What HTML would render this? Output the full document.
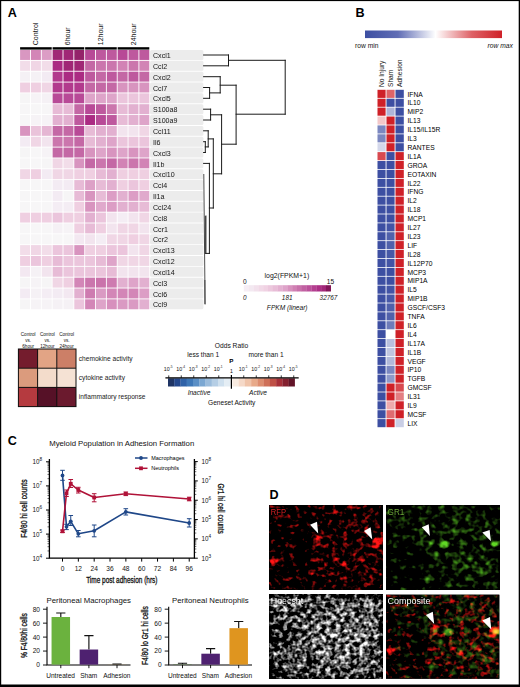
<!DOCTYPE html>
<html lang="en"><head><meta charset="utf-8"><title>Figure</title>
<style>html,body{margin:0;padding:0;background:#fff;}body{width:520px;height:687px;overflow:hidden;font-family:"Liberation Sans",sans-serif;}svg{display:block;font-family:"Liberation Sans",sans-serif;}text{font-family:"Liberation Sans",sans-serif;}</style>
</head><body>
<svg width="520" height="687" viewBox="0 0 520 687">
<defs><linearGradient id="gB" x1="0" x2="1" y1="0" y2="0"><stop offset="0" stop-color="#3d4fa2"/><stop offset="0.24" stop-color="#606db5"/><stop offset="0.515" stop-color="#ffffff"/><stop offset="0.78" stop-color="#de6166"/><stop offset="1" stop-color="#cf2128"/></linearGradient></defs>
<rect width="520" height="687" fill="#fff"/>
<rect x="0" y="0" width="520" height="1.1" fill="#000"/>
<rect x="0" y="0" width="1.2" height="687" fill="#000"/>
<rect x="518.7" y="0" width="1.3" height="687" fill="#000"/>
<rect x="0" y="684.5" width="520" height="2.5" fill="#000"/>
<g id="panelA">
<text x="7.70" y="17.20" font-size="12.6" text-anchor="start" font-weight="bold" font-style="normal" fill="#000" >A</text>
<rect x="20.10" y="47.2" width="31.62" height="2.4" fill="#000"/>
<rect x="52.62" y="47.2" width="31.62" height="2.4" fill="#000"/>
<rect x="85.14" y="47.2" width="31.62" height="2.4" fill="#000"/>
<rect x="117.66" y="47.2" width="31.62" height="2.4" fill="#000"/>
<text transform="translate(37.96,45.2) rotate(-90)" font-size="7.0" fill="#111">Control</text>
<text transform="translate(70.48,45.2) rotate(-90)" font-size="7.0" fill="#111">6hour</text>
<text transform="translate(103.00,45.2) rotate(-90)" font-size="7.0" fill="#111">12hour</text>
<text transform="translate(135.52,45.2) rotate(-90)" font-size="7.0" fill="#111">24hour</text>
<rect x="20.10" y="50.00" width="9.94" height="9.94" fill="#d997c1"/>
<rect x="30.94" y="50.00" width="9.94" height="9.94" fill="#d386b7"/>
<rect x="41.78" y="50.00" width="9.94" height="9.94" fill="#dc9dc5"/>
<rect x="52.62" y="50.00" width="9.94" height="9.94" fill="#a02776"/>
<rect x="63.46" y="50.00" width="9.94" height="9.94" fill="#a02776"/>
<rect x="74.30" y="50.00" width="9.94" height="9.94" fill="#94236a"/>
<rect x="85.14" y="50.00" width="9.94" height="9.94" fill="#b84a97"/>
<rect x="95.98" y="50.00" width="9.94" height="9.94" fill="#be599e"/>
<rect x="106.82" y="50.00" width="9.94" height="9.94" fill="#be599e"/>
<rect x="117.66" y="50.00" width="9.94" height="9.94" fill="#b84a97"/>
<rect x="128.50" y="50.00" width="9.94" height="9.94" fill="#be599e"/>
<rect x="139.34" y="50.00" width="9.94" height="9.94" fill="#be599e"/>
<rect x="20.10" y="60.84" width="9.94" height="9.94" fill="#f2dde9"/>
<rect x="30.94" y="60.84" width="9.94" height="9.94" fill="#f0d6e5"/>
<rect x="41.78" y="60.84" width="9.94" height="9.94" fill="#f2dde9"/>
<rect x="52.62" y="60.84" width="9.94" height="9.94" fill="#ab2b83"/>
<rect x="63.46" y="60.84" width="9.94" height="9.94" fill="#a02776"/>
<rect x="74.30" y="60.84" width="9.94" height="9.94" fill="#a02776"/>
<rect x="85.14" y="60.84" width="9.94" height="9.94" fill="#c468a5"/>
<rect x="95.98" y="60.84" width="9.94" height="9.94" fill="#cb76ad"/>
<rect x="106.82" y="60.84" width="9.94" height="9.94" fill="#cb76ad"/>
<rect x="117.66" y="60.84" width="9.94" height="9.94" fill="#d283b5"/>
<rect x="128.50" y="60.84" width="9.94" height="9.94" fill="#cb76ad"/>
<rect x="139.34" y="60.84" width="9.94" height="9.94" fill="#d283b5"/>
<rect x="20.10" y="71.68" width="9.94" height="9.94" fill="#f5f1f5"/>
<rect x="30.94" y="71.68" width="9.94" height="9.94" fill="#f5f1f5"/>
<rect x="41.78" y="71.68" width="9.94" height="9.94" fill="#f3ebf3"/>
<rect x="52.62" y="71.68" width="9.94" height="9.94" fill="#b23a8d"/>
<rect x="63.46" y="71.68" width="9.94" height="9.94" fill="#ab2b83"/>
<rect x="74.30" y="71.68" width="9.94" height="9.94" fill="#ab2b83"/>
<rect x="85.14" y="71.68" width="9.94" height="9.94" fill="#be599e"/>
<rect x="95.98" y="71.68" width="9.94" height="9.94" fill="#c468a5"/>
<rect x="106.82" y="71.68" width="9.94" height="9.94" fill="#be599e"/>
<rect x="117.66" y="71.68" width="9.94" height="9.94" fill="#c468a5"/>
<rect x="128.50" y="71.68" width="9.94" height="9.94" fill="#be599e"/>
<rect x="139.34" y="71.68" width="9.94" height="9.94" fill="#c468a5"/>
<rect x="20.10" y="82.52" width="9.94" height="9.94" fill="#efcfe1"/>
<rect x="30.94" y="82.52" width="9.94" height="9.94" fill="#efcfe1"/>
<rect x="41.78" y="82.52" width="9.94" height="9.94" fill="#f0d6e5"/>
<rect x="52.62" y="82.52" width="9.94" height="9.94" fill="#b23a8d"/>
<rect x="63.46" y="82.52" width="9.94" height="9.94" fill="#b23a8d"/>
<rect x="74.30" y="82.52" width="9.94" height="9.94" fill="#b23a8d"/>
<rect x="85.14" y="82.52" width="9.94" height="9.94" fill="#c468a5"/>
<rect x="95.98" y="82.52" width="9.94" height="9.94" fill="#c468a5"/>
<rect x="106.82" y="82.52" width="9.94" height="9.94" fill="#c468a5"/>
<rect x="117.66" y="82.52" width="9.94" height="9.94" fill="#d894bf"/>
<rect x="128.50" y="82.52" width="9.94" height="9.94" fill="#d894bf"/>
<rect x="139.34" y="82.52" width="9.94" height="9.94" fill="#d894bf"/>
<rect x="20.10" y="93.36" width="9.94" height="9.94" fill="#f6f5f6"/>
<rect x="30.94" y="93.36" width="9.94" height="9.94" fill="#f6f3f6"/>
<rect x="41.78" y="93.36" width="9.94" height="9.94" fill="#f5f1f5"/>
<rect x="52.62" y="93.36" width="9.94" height="9.94" fill="#b84a97"/>
<rect x="63.46" y="93.36" width="9.94" height="9.94" fill="#b84a97"/>
<rect x="74.30" y="93.36" width="9.94" height="9.94" fill="#b84a97"/>
<rect x="85.14" y="93.36" width="9.94" height="9.94" fill="#dea4c9"/>
<rect x="95.98" y="93.36" width="9.94" height="9.94" fill="#dea4c9"/>
<rect x="106.82" y="93.36" width="9.94" height="9.94" fill="#dea4c9"/>
<rect x="117.66" y="93.36" width="9.94" height="9.94" fill="#ebc5dc"/>
<rect x="128.50" y="93.36" width="9.94" height="9.94" fill="#ebc5dc"/>
<rect x="139.34" y="93.36" width="9.94" height="9.94" fill="#ebc5dc"/>
<rect x="20.10" y="104.20" width="9.94" height="9.94" fill="#f7f6f7"/>
<rect x="30.94" y="104.20" width="9.94" height="9.94" fill="#f7f6f7"/>
<rect x="41.78" y="104.20" width="9.94" height="9.94" fill="#f7f6f7"/>
<rect x="52.62" y="104.20" width="9.94" height="9.94" fill="#e7bbd6"/>
<rect x="63.46" y="104.20" width="9.94" height="9.94" fill="#e7bbd6"/>
<rect x="74.30" y="104.20" width="9.94" height="9.94" fill="#c468a5"/>
<rect x="85.14" y="104.20" width="9.94" height="9.94" fill="#b84a97"/>
<rect x="95.98" y="104.20" width="9.94" height="9.94" fill="#be599e"/>
<rect x="106.82" y="104.20" width="9.94" height="9.94" fill="#cb76ad"/>
<rect x="117.66" y="104.20" width="9.94" height="9.94" fill="#e7bbd6"/>
<rect x="128.50" y="104.20" width="9.94" height="9.94" fill="#e2b0d0"/>
<rect x="139.34" y="104.20" width="9.94" height="9.94" fill="#e2b0d0"/>
<rect x="20.10" y="115.04" width="9.94" height="9.94" fill="#f7f6f7"/>
<rect x="30.94" y="115.04" width="9.94" height="9.94" fill="#f6f3f6"/>
<rect x="41.78" y="115.04" width="9.94" height="9.94" fill="#f6f3f6"/>
<rect x="52.62" y="115.04" width="9.94" height="9.94" fill="#e2b0d0"/>
<rect x="63.46" y="115.04" width="9.94" height="9.94" fill="#e2b0d0"/>
<rect x="74.30" y="115.04" width="9.94" height="9.94" fill="#be599e"/>
<rect x="85.14" y="115.04" width="9.94" height="9.94" fill="#ab2b83"/>
<rect x="95.98" y="115.04" width="9.94" height="9.94" fill="#b84a97"/>
<rect x="106.82" y="115.04" width="9.94" height="9.94" fill="#be599e"/>
<rect x="117.66" y="115.04" width="9.94" height="9.94" fill="#e7bbd6"/>
<rect x="128.50" y="115.04" width="9.94" height="9.94" fill="#e2b0d0"/>
<rect x="139.34" y="115.04" width="9.94" height="9.94" fill="#dea4c9"/>
<rect x="20.10" y="125.88" width="9.94" height="9.94" fill="#d894bf"/>
<rect x="30.94" y="125.88" width="9.94" height="9.94" fill="#eac3da"/>
<rect x="41.78" y="125.88" width="9.94" height="9.94" fill="#e5b6d3"/>
<rect x="52.62" y="125.88" width="9.94" height="9.94" fill="#c468a5"/>
<rect x="63.46" y="125.88" width="9.94" height="9.94" fill="#c468a5"/>
<rect x="74.30" y="125.88" width="9.94" height="9.94" fill="#b84a97"/>
<rect x="85.14" y="125.88" width="9.94" height="9.94" fill="#e7bbd6"/>
<rect x="95.98" y="125.88" width="9.94" height="9.94" fill="#e2b0d0"/>
<rect x="106.82" y="125.88" width="9.94" height="9.94" fill="#e2b0d0"/>
<rect x="117.66" y="125.88" width="9.94" height="9.94" fill="#f2e4ee"/>
<rect x="128.50" y="125.88" width="9.94" height="9.94" fill="#f2e4ee"/>
<rect x="139.34" y="125.88" width="9.94" height="9.94" fill="#f0d6e5"/>
<rect x="20.10" y="136.72" width="9.94" height="9.94" fill="#f3ebf3"/>
<rect x="30.94" y="136.72" width="9.94" height="9.94" fill="#f0d6e5"/>
<rect x="41.78" y="136.72" width="9.94" height="9.94" fill="#f2e4ee"/>
<rect x="52.62" y="136.72" width="9.94" height="9.94" fill="#cb76ad"/>
<rect x="63.46" y="136.72" width="9.94" height="9.94" fill="#cb76ad"/>
<rect x="74.30" y="136.72" width="9.94" height="9.94" fill="#c468a5"/>
<rect x="85.14" y="136.72" width="9.94" height="9.94" fill="#e7bbd6"/>
<rect x="95.98" y="136.72" width="9.94" height="9.94" fill="#e2b0d0"/>
<rect x="106.82" y="136.72" width="9.94" height="9.94" fill="#dea4c9"/>
<rect x="117.66" y="136.72" width="9.94" height="9.94" fill="#ebc5dc"/>
<rect x="128.50" y="136.72" width="9.94" height="9.94" fill="#ebc5dc"/>
<rect x="139.34" y="136.72" width="9.94" height="9.94" fill="#ebc5dc"/>
<rect x="20.10" y="147.56" width="9.94" height="9.94" fill="#f6f5f6"/>
<rect x="30.94" y="147.56" width="9.94" height="9.94" fill="#f7f6f7"/>
<rect x="41.78" y="147.56" width="9.94" height="9.94" fill="#f6f3f6"/>
<rect x="52.62" y="147.56" width="9.94" height="9.94" fill="#c468a5"/>
<rect x="63.46" y="147.56" width="9.94" height="9.94" fill="#c468a5"/>
<rect x="74.30" y="147.56" width="9.94" height="9.94" fill="#c468a5"/>
<rect x="85.14" y="147.56" width="9.94" height="9.94" fill="#d894bf"/>
<rect x="95.98" y="147.56" width="9.94" height="9.94" fill="#dea4c9"/>
<rect x="106.82" y="147.56" width="9.94" height="9.94" fill="#d894bf"/>
<rect x="117.66" y="147.56" width="9.94" height="9.94" fill="#dea4c9"/>
<rect x="128.50" y="147.56" width="9.94" height="9.94" fill="#d894bf"/>
<rect x="139.34" y="147.56" width="9.94" height="9.94" fill="#dea4c9"/>
<rect x="20.10" y="158.40" width="9.94" height="9.94" fill="#f7f6f7"/>
<rect x="30.94" y="158.40" width="9.94" height="9.94" fill="#f7f6f7"/>
<rect x="41.78" y="158.40" width="9.94" height="9.94" fill="#f6f5f6"/>
<rect x="52.62" y="158.40" width="9.94" height="9.94" fill="#f0d6e5"/>
<rect x="63.46" y="158.40" width="9.94" height="9.94" fill="#f2dde9"/>
<rect x="74.30" y="158.40" width="9.94" height="9.94" fill="#d894bf"/>
<rect x="85.14" y="158.40" width="9.94" height="9.94" fill="#c468a5"/>
<rect x="95.98" y="158.40" width="9.94" height="9.94" fill="#cb76ad"/>
<rect x="106.82" y="158.40" width="9.94" height="9.94" fill="#c468a5"/>
<rect x="117.66" y="158.40" width="9.94" height="9.94" fill="#d283b5"/>
<rect x="128.50" y="158.40" width="9.94" height="9.94" fill="#cb76ad"/>
<rect x="139.34" y="158.40" width="9.94" height="9.94" fill="#d283b5"/>
<rect x="20.10" y="169.24" width="9.94" height="9.94" fill="#f0d6e5"/>
<rect x="30.94" y="169.24" width="9.94" height="9.94" fill="#efcfe1"/>
<rect x="41.78" y="169.24" width="9.94" height="9.94" fill="#f3ebf3"/>
<rect x="52.62" y="169.24" width="9.94" height="9.94" fill="#f0d6e5"/>
<rect x="63.46" y="169.24" width="9.94" height="9.94" fill="#f0d6e5"/>
<rect x="74.30" y="169.24" width="9.94" height="9.94" fill="#efcfe1"/>
<rect x="85.14" y="169.24" width="9.94" height="9.94" fill="#efcfe1"/>
<rect x="95.98" y="169.24" width="9.94" height="9.94" fill="#e7bbd6"/>
<rect x="106.82" y="169.24" width="9.94" height="9.94" fill="#e2b0d0"/>
<rect x="117.66" y="169.24" width="9.94" height="9.94" fill="#efcfe1"/>
<rect x="128.50" y="169.24" width="9.94" height="9.94" fill="#efcfe1"/>
<rect x="139.34" y="169.24" width="9.94" height="9.94" fill="#efcfe1"/>
<rect x="20.10" y="180.08" width="9.94" height="9.94" fill="#f7f6f7"/>
<rect x="30.94" y="180.08" width="9.94" height="9.94" fill="#f7f6f7"/>
<rect x="41.78" y="180.08" width="9.94" height="9.94" fill="#f7f6f7"/>
<rect x="52.62" y="180.08" width="9.94" height="9.94" fill="#f3ebf3"/>
<rect x="63.46" y="180.08" width="9.94" height="9.94" fill="#f3ebf3"/>
<rect x="74.30" y="180.08" width="9.94" height="9.94" fill="#e7bbd6"/>
<rect x="85.14" y="180.08" width="9.94" height="9.94" fill="#dda1c7"/>
<rect x="95.98" y="180.08" width="9.94" height="9.94" fill="#e7bbd6"/>
<rect x="106.82" y="180.08" width="9.94" height="9.94" fill="#e2b0d0"/>
<rect x="117.66" y="180.08" width="9.94" height="9.94" fill="#efcfe1"/>
<rect x="128.50" y="180.08" width="9.94" height="9.94" fill="#ebc5dc"/>
<rect x="139.34" y="180.08" width="9.94" height="9.94" fill="#efcfe1"/>
<rect x="20.10" y="190.92" width="9.94" height="9.94" fill="#f7f6f7"/>
<rect x="30.94" y="190.92" width="9.94" height="9.94" fill="#f7f6f7"/>
<rect x="41.78" y="190.92" width="9.94" height="9.94" fill="#f7f6f7"/>
<rect x="52.62" y="190.92" width="9.94" height="9.94" fill="#f3ebf3"/>
<rect x="63.46" y="190.92" width="9.94" height="9.94" fill="#f6f5f6"/>
<rect x="74.30" y="190.92" width="9.94" height="9.94" fill="#e7bbd6"/>
<rect x="85.14" y="190.92" width="9.94" height="9.94" fill="#d894bf"/>
<rect x="95.98" y="190.92" width="9.94" height="9.94" fill="#e7bbd6"/>
<rect x="106.82" y="190.92" width="9.94" height="9.94" fill="#dc9dc5"/>
<rect x="117.66" y="190.92" width="9.94" height="9.94" fill="#e2b0d0"/>
<rect x="128.50" y="190.92" width="9.94" height="9.94" fill="#dc9dc5"/>
<rect x="139.34" y="190.92" width="9.94" height="9.94" fill="#e0a9cc"/>
<rect x="20.10" y="201.76" width="9.94" height="9.94" fill="#f7f6f7"/>
<rect x="30.94" y="201.76" width="9.94" height="9.94" fill="#f7f6f7"/>
<rect x="41.78" y="201.76" width="9.94" height="9.94" fill="#f7f6f7"/>
<rect x="52.62" y="201.76" width="9.94" height="9.94" fill="#f4edf4"/>
<rect x="63.46" y="201.76" width="9.94" height="9.94" fill="#f4edf4"/>
<rect x="74.30" y="201.76" width="9.94" height="9.94" fill="#efcfe1"/>
<rect x="85.14" y="201.76" width="9.94" height="9.94" fill="#d894bf"/>
<rect x="95.98" y="201.76" width="9.94" height="9.94" fill="#e0a9cc"/>
<rect x="106.82" y="201.76" width="9.94" height="9.94" fill="#dc9dc5"/>
<rect x="117.66" y="201.76" width="9.94" height="9.94" fill="#e2b0d0"/>
<rect x="128.50" y="201.76" width="9.94" height="9.94" fill="#e2b0d0"/>
<rect x="139.34" y="201.76" width="9.94" height="9.94" fill="#e7bbd6"/>
<rect x="20.10" y="212.60" width="9.94" height="9.94" fill="#efcfe1"/>
<rect x="30.94" y="212.60" width="9.94" height="9.94" fill="#efcfe1"/>
<rect x="41.78" y="212.60" width="9.94" height="9.94" fill="#efcfe1"/>
<rect x="52.62" y="212.60" width="9.94" height="9.94" fill="#ebc5dc"/>
<rect x="63.46" y="212.60" width="9.94" height="9.94" fill="#efcfe1"/>
<rect x="74.30" y="212.60" width="9.94" height="9.94" fill="#efcfe1"/>
<rect x="85.14" y="212.60" width="9.94" height="9.94" fill="#e2b0d0"/>
<rect x="95.98" y="212.60" width="9.94" height="9.94" fill="#ebc5dc"/>
<rect x="106.82" y="212.60" width="9.94" height="9.94" fill="#f2e4ee"/>
<rect x="117.66" y="212.60" width="9.94" height="9.94" fill="#f4edf4"/>
<rect x="128.50" y="212.60" width="9.94" height="9.94" fill="#f2e4ee"/>
<rect x="139.34" y="212.60" width="9.94" height="9.94" fill="#f0d6e5"/>
<rect x="20.10" y="223.44" width="9.94" height="9.94" fill="#f7f6f7"/>
<rect x="30.94" y="223.44" width="9.94" height="9.94" fill="#f7f6f7"/>
<rect x="41.78" y="223.44" width="9.94" height="9.94" fill="#f7f6f7"/>
<rect x="52.62" y="223.44" width="9.94" height="9.94" fill="#f5f1f5"/>
<rect x="63.46" y="223.44" width="9.94" height="9.94" fill="#f6f3f6"/>
<rect x="74.30" y="223.44" width="9.94" height="9.94" fill="#efcfe1"/>
<rect x="85.14" y="223.44" width="9.94" height="9.94" fill="#e7bbd6"/>
<rect x="95.98" y="223.44" width="9.94" height="9.94" fill="#efcfe1"/>
<rect x="106.82" y="223.44" width="9.94" height="9.94" fill="#f2e4ee"/>
<rect x="117.66" y="223.44" width="9.94" height="9.94" fill="#f0d6e5"/>
<rect x="128.50" y="223.44" width="9.94" height="9.94" fill="#f0d6e5"/>
<rect x="139.34" y="223.44" width="9.94" height="9.94" fill="#f2e4ee"/>
<rect x="20.10" y="234.28" width="9.94" height="9.94" fill="#f7f6f7"/>
<rect x="30.94" y="234.28" width="9.94" height="9.94" fill="#f7f6f7"/>
<rect x="41.78" y="234.28" width="9.94" height="9.94" fill="#f7f6f7"/>
<rect x="52.62" y="234.28" width="9.94" height="9.94" fill="#f7f6f7"/>
<rect x="63.46" y="234.28" width="9.94" height="9.94" fill="#f7f6f7"/>
<rect x="74.30" y="234.28" width="9.94" height="9.94" fill="#f3e8f1"/>
<rect x="85.14" y="234.28" width="9.94" height="9.94" fill="#f2e4ee"/>
<rect x="95.98" y="234.28" width="9.94" height="9.94" fill="#f4edf4"/>
<rect x="106.82" y="234.28" width="9.94" height="9.94" fill="#f0d6e5"/>
<rect x="117.66" y="234.28" width="9.94" height="9.94" fill="#f0d6e5"/>
<rect x="128.50" y="234.28" width="9.94" height="9.94" fill="#efcfe1"/>
<rect x="139.34" y="234.28" width="9.94" height="9.94" fill="#f0d6e5"/>
<rect x="20.10" y="245.12" width="9.94" height="9.94" fill="#f2dde9"/>
<rect x="30.94" y="245.12" width="9.94" height="9.94" fill="#f0d6e5"/>
<rect x="41.78" y="245.12" width="9.94" height="9.94" fill="#f2dde9"/>
<rect x="52.62" y="245.12" width="9.94" height="9.94" fill="#ebc5dc"/>
<rect x="63.46" y="245.12" width="9.94" height="9.94" fill="#ebc5dc"/>
<rect x="74.30" y="245.12" width="9.94" height="9.94" fill="#d894bf"/>
<rect x="85.14" y="245.12" width="9.94" height="9.94" fill="#efcfe1"/>
<rect x="95.98" y="245.12" width="9.94" height="9.94" fill="#efcfe1"/>
<rect x="106.82" y="245.12" width="9.94" height="9.94" fill="#ebc5dc"/>
<rect x="117.66" y="245.12" width="9.94" height="9.94" fill="#ebc5dc"/>
<rect x="128.50" y="245.12" width="9.94" height="9.94" fill="#f2e4ee"/>
<rect x="139.34" y="245.12" width="9.94" height="9.94" fill="#f0d6e5"/>
<rect x="20.10" y="255.96" width="9.94" height="9.94" fill="#efcfe1"/>
<rect x="30.94" y="255.96" width="9.94" height="9.94" fill="#ebc5dc"/>
<rect x="41.78" y="255.96" width="9.94" height="9.94" fill="#efcfe1"/>
<rect x="52.62" y="255.96" width="9.94" height="9.94" fill="#e7bbd6"/>
<rect x="63.46" y="255.96" width="9.94" height="9.94" fill="#ebc5dc"/>
<rect x="74.30" y="255.96" width="9.94" height="9.94" fill="#ebc5dc"/>
<rect x="85.14" y="255.96" width="9.94" height="9.94" fill="#ebc5dc"/>
<rect x="95.98" y="255.96" width="9.94" height="9.94" fill="#e7bbd6"/>
<rect x="106.82" y="255.96" width="9.94" height="9.94" fill="#dea4c9"/>
<rect x="117.66" y="255.96" width="9.94" height="9.94" fill="#f0d6e5"/>
<rect x="128.50" y="255.96" width="9.94" height="9.94" fill="#f0d6e5"/>
<rect x="139.34" y="255.96" width="9.94" height="9.94" fill="#f0d6e5"/>
<rect x="20.10" y="266.80" width="9.94" height="9.94" fill="#f3e8f1"/>
<rect x="30.94" y="266.80" width="9.94" height="9.94" fill="#f5f1f5"/>
<rect x="41.78" y="266.80" width="9.94" height="9.94" fill="#f2e4ee"/>
<rect x="52.62" y="266.80" width="9.94" height="9.94" fill="#e7bbd6"/>
<rect x="63.46" y="266.80" width="9.94" height="9.94" fill="#ebc5dc"/>
<rect x="74.30" y="266.80" width="9.94" height="9.94" fill="#ebc5dc"/>
<rect x="85.14" y="266.80" width="9.94" height="9.94" fill="#ebc5dc"/>
<rect x="95.98" y="266.80" width="9.94" height="9.94" fill="#ebc5dc"/>
<rect x="106.82" y="266.80" width="9.94" height="9.94" fill="#e7bbd6"/>
<rect x="117.66" y="266.80" width="9.94" height="9.94" fill="#f2e4ee"/>
<rect x="128.50" y="266.80" width="9.94" height="9.94" fill="#f2e4ee"/>
<rect x="139.34" y="266.80" width="9.94" height="9.94" fill="#f2e4ee"/>
<rect x="20.10" y="277.64" width="9.94" height="9.94" fill="#f6f5f6"/>
<rect x="30.94" y="277.64" width="9.94" height="9.94" fill="#f6f3f6"/>
<rect x="41.78" y="277.64" width="9.94" height="9.94" fill="#f6f5f6"/>
<rect x="52.62" y="277.64" width="9.94" height="9.94" fill="#f0d6e5"/>
<rect x="63.46" y="277.64" width="9.94" height="9.94" fill="#efcfe1"/>
<rect x="74.30" y="277.64" width="9.94" height="9.94" fill="#d386b7"/>
<rect x="85.14" y="277.64" width="9.94" height="9.94" fill="#cb76ad"/>
<rect x="95.98" y="277.64" width="9.94" height="9.94" fill="#ca73ab"/>
<rect x="106.82" y="277.64" width="9.94" height="9.94" fill="#ce7bb0"/>
<rect x="117.66" y="277.64" width="9.94" height="9.94" fill="#e2b0d0"/>
<rect x="128.50" y="277.64" width="9.94" height="9.94" fill="#dea4c9"/>
<rect x="139.34" y="277.64" width="9.94" height="9.94" fill="#e2b0d0"/>
<rect x="20.10" y="288.48" width="9.94" height="9.94" fill="#f3ebf3"/>
<rect x="30.94" y="288.48" width="9.94" height="9.94" fill="#f5f1f5"/>
<rect x="41.78" y="288.48" width="9.94" height="9.94" fill="#f4edf4"/>
<rect x="52.62" y="288.48" width="9.94" height="9.94" fill="#f3ebf3"/>
<rect x="63.46" y="288.48" width="9.94" height="9.94" fill="#f3e8f1"/>
<rect x="74.30" y="288.48" width="9.94" height="9.94" fill="#e2b0d0"/>
<rect x="85.14" y="288.48" width="9.94" height="9.94" fill="#ce7bb0"/>
<rect x="95.98" y="288.48" width="9.94" height="9.94" fill="#da9ac3"/>
<rect x="106.82" y="288.48" width="9.94" height="9.94" fill="#d386b7"/>
<rect x="117.66" y="288.48" width="9.94" height="9.94" fill="#d386b7"/>
<rect x="128.50" y="288.48" width="9.94" height="9.94" fill="#d386b7"/>
<rect x="139.34" y="288.48" width="9.94" height="9.94" fill="#dc9dc5"/>
<rect x="20.10" y="299.32" width="9.94" height="9.94" fill="#f6f5f6"/>
<rect x="30.94" y="299.32" width="9.94" height="9.94" fill="#f6f3f6"/>
<rect x="41.78" y="299.32" width="9.94" height="9.94" fill="#f6f3f6"/>
<rect x="52.62" y="299.32" width="9.94" height="9.94" fill="#f5f1f5"/>
<rect x="63.46" y="299.32" width="9.94" height="9.94" fill="#f5f1f5"/>
<rect x="74.30" y="299.32" width="9.94" height="9.94" fill="#ebc5dc"/>
<rect x="85.14" y="299.32" width="9.94" height="9.94" fill="#d386b7"/>
<rect x="95.98" y="299.32" width="9.94" height="9.94" fill="#dea4c9"/>
<rect x="106.82" y="299.32" width="9.94" height="9.94" fill="#d790bd"/>
<rect x="117.66" y="299.32" width="9.94" height="9.94" fill="#da9ac3"/>
<rect x="128.50" y="299.32" width="9.94" height="9.94" fill="#da9ac3"/>
<rect x="139.34" y="299.32" width="9.94" height="9.94" fill="#e2b0d0"/>
<rect x="150" y="50.00" width="53.4" height="9.94" rx="1.5" fill="#ececec"/>
<rect x="150" y="60.84" width="53.4" height="9.94" rx="1.5" fill="#ececec"/>
<rect x="150" y="71.68" width="53.4" height="9.94" rx="1.5" fill="#ececec"/>
<rect x="150" y="82.52" width="53.4" height="9.94" rx="1.5" fill="#ececec"/>
<rect x="150" y="93.36" width="53.4" height="9.94" rx="1.5" fill="#ececec"/>
<rect x="150" y="104.20" width="53.4" height="9.94" rx="1.5" fill="#ececec"/>
<rect x="150" y="115.04" width="53.4" height="9.94" rx="1.5" fill="#ececec"/>
<rect x="150" y="125.88" width="53.4" height="9.94" rx="1.5" fill="#ececec"/>
<rect x="150" y="136.72" width="53.4" height="9.94" rx="1.5" fill="#ececec"/>
<rect x="150" y="147.56" width="53.4" height="9.94" rx="1.5" fill="#ececec"/>
<rect x="150" y="158.40" width="53.4" height="9.94" rx="1.5" fill="#ececec"/>
<rect x="150" y="169.24" width="53.4" height="9.94" rx="1.5" fill="#ececec"/>
<rect x="150" y="180.08" width="53.4" height="9.94" rx="1.5" fill="#ececec"/>
<rect x="150" y="190.92" width="53.4" height="9.94" rx="1.5" fill="#ececec"/>
<rect x="150" y="201.76" width="53.4" height="9.94" rx="1.5" fill="#ececec"/>
<rect x="150" y="212.60" width="53.4" height="9.94" rx="1.5" fill="#ececec"/>
<rect x="150" y="223.44" width="53.4" height="9.94" rx="1.5" fill="#ececec"/>
<rect x="150" y="234.28" width="53.4" height="9.94" rx="1.5" fill="#ececec"/>
<rect x="150" y="245.12" width="53.4" height="9.94" rx="1.5" fill="#ececec"/>
<rect x="150" y="255.96" width="53.4" height="9.94" rx="1.5" fill="#ececec"/>
<rect x="150" y="266.80" width="53.4" height="9.94" rx="1.5" fill="#ececec"/>
<rect x="150" y="277.64" width="53.4" height="9.94" rx="1.5" fill="#ececec"/>
<rect x="150" y="288.48" width="53.4" height="9.94" rx="1.5" fill="#ececec"/>
<rect x="150" y="299.32" width="53.4" height="9.94" rx="1.5" fill="#ececec"/>
<g opacity="0.99">
<text x="153.00" y="58.10" font-size="7.1" text-anchor="start" font-weight="normal" font-style="normal" fill="#111" >Cxcl1</text>
<text x="153.00" y="68.94" font-size="7.1" text-anchor="start" font-weight="normal" font-style="normal" fill="#111" >Ccl2</text>
<text x="153.00" y="79.78" font-size="7.1" text-anchor="start" font-weight="normal" font-style="normal" fill="#111" >Cxcl2</text>
<text x="153.00" y="90.62" font-size="7.1" text-anchor="start" font-weight="normal" font-style="normal" fill="#111" >Ccl7</text>
<text x="153.00" y="101.46" font-size="7.1" text-anchor="start" font-weight="normal" font-style="normal" fill="#111" >Cxcl5</text>
<text x="153.00" y="112.30" font-size="7.1" text-anchor="start" font-weight="normal" font-style="normal" fill="#111" >S100a8</text>
<text x="153.00" y="123.14" font-size="7.1" text-anchor="start" font-weight="normal" font-style="normal" fill="#111" >S100a9</text>
<text x="153.00" y="133.98" font-size="7.1" text-anchor="start" font-weight="normal" font-style="normal" fill="#111" >Ccl11</text>
<text x="153.00" y="144.82" font-size="7.1" text-anchor="start" font-weight="normal" font-style="normal" fill="#111" >Il6</text>
<text x="153.00" y="155.66" font-size="7.1" text-anchor="start" font-weight="normal" font-style="normal" fill="#111" >Cxcl3</text>
<text x="153.00" y="166.50" font-size="7.1" text-anchor="start" font-weight="normal" font-style="normal" fill="#111" >Il1b</text>
<text x="153.00" y="177.34" font-size="7.1" text-anchor="start" font-weight="normal" font-style="normal" fill="#111" >Cxcl10</text>
<text x="153.00" y="188.18" font-size="7.1" text-anchor="start" font-weight="normal" font-style="normal" fill="#111" >Ccl4</text>
<text x="153.00" y="199.02" font-size="7.1" text-anchor="start" font-weight="normal" font-style="normal" fill="#111" >Il1a</text>
<text x="153.00" y="209.86" font-size="7.1" text-anchor="start" font-weight="normal" font-style="normal" fill="#111" >Ccl24</text>
<text x="153.00" y="220.70" font-size="7.1" text-anchor="start" font-weight="normal" font-style="normal" fill="#111" >Ccl8</text>
<text x="153.00" y="231.54" font-size="7.1" text-anchor="start" font-weight="normal" font-style="normal" fill="#111" >Ccr1</text>
<text x="153.00" y="242.38" font-size="7.1" text-anchor="start" font-weight="normal" font-style="normal" fill="#111" >Ccr2</text>
<text x="153.00" y="253.22" font-size="7.1" text-anchor="start" font-weight="normal" font-style="normal" fill="#111" >Cxcl13</text>
<text x="153.00" y="264.06" font-size="7.1" text-anchor="start" font-weight="normal" font-style="normal" fill="#111" >Cxcl12</text>
<text x="153.00" y="274.90" font-size="7.1" text-anchor="start" font-weight="normal" font-style="normal" fill="#111" >Cxcl14</text>
<text x="153.00" y="285.74" font-size="7.1" text-anchor="start" font-weight="normal" font-style="normal" fill="#111" >Ccl3</text>
<text x="153.00" y="296.58" font-size="7.1" text-anchor="start" font-weight="normal" font-style="normal" fill="#111" >Ccl6</text>
<text x="153.00" y="307.42" font-size="7.1" text-anchor="start" font-weight="normal" font-style="normal" fill="#111" >Ccl9</text>
</g>
<path d="M203.6 55.0H228.5M203.6 65.8H228.5M228.5 55.0V65.8M228.5 60.3H285.2M285.2 60.3V114.2M236.1 114.2H285.2M236.1 85.2V144.2M203.6 76.7H220.2M220.2 76.7V92.9M220.2 85.2H236.1M203.6 87.5H209.6M203.6 98.3H209.6M209.6 87.5V98.3M209.6 92.9H220.2M203.6 109.2H210.6M203.6 120.0H210.6M210.6 109.2V120.0M210.6 114.8H221.6M221.6 114.8V173.8M221.6 144.2H236.1M203.6 130.8H208.2M208.2 130.8V146.9M203.6 141.7H205.3M203.6 152.5H205.3M205.3 141.7V152.5M205.3 146.9H208.2M208.2 138.9H213.3M213.3 138.9V208.0M213.3 173.8H221.6M203.6 163.4H209.4M209.4 163.4V253.4M209.4 208.0H213.3M205.9 253.4H209.4M205.9 216.0V253.4" fill="none" stroke="#1a1a1a" stroke-width="1.0" stroke-linecap="square"/>
<path d="M203.8 174L205.1 304.5" stroke="#222" stroke-width="0.8" fill="none"/>
<path d="M205.3 216V254M204.9 280V304" stroke="#222" stroke-width="0.7" fill="none"/>
<text x="286.90" y="278.40" font-size="6.9" text-anchor="middle" font-weight="normal" font-style="normal" fill="#111" >log2(FPKM+1)</text>
<text x="243.00" y="284.00" font-size="6.6" text-anchor="start" font-weight="normal" font-style="normal" fill="#111" >0</text>
<text x="326.80" y="284.00" font-size="6.6" text-anchor="start" font-weight="normal" font-style="normal" fill="#111" >15</text>
<rect x="243.80" y="285.2" width="5.03" height="6.3" fill="#f6eef5"/>
<rect x="248.63" y="285.2" width="5.03" height="6.3" fill="#f3e9f1"/>
<rect x="253.47" y="285.2" width="5.03" height="6.3" fill="#f2e1ec"/>
<rect x="258.30" y="285.2" width="5.03" height="6.3" fill="#f1d9e7"/>
<rect x="263.13" y="285.2" width="5.03" height="6.3" fill="#f0d2e3"/>
<rect x="267.97" y="285.2" width="5.03" height="6.3" fill="#ecc8dd"/>
<rect x="272.80" y="285.2" width="5.03" height="6.3" fill="#e8bdd7"/>
<rect x="277.63" y="285.2" width="5.03" height="6.3" fill="#e3b0d0"/>
<rect x="282.47" y="285.2" width="5.03" height="6.3" fill="#dea3c9"/>
<rect x="287.30" y="285.2" width="5.03" height="6.3" fill="#d791bd"/>
<rect x="292.13" y="285.2" width="5.03" height="6.3" fill="#d080b3"/>
<rect x="296.97" y="285.2" width="5.03" height="6.3" fill="#c871aa"/>
<rect x="301.80" y="285.2" width="5.03" height="6.3" fill="#c161a2"/>
<rect x="306.63" y="285.2" width="5.03" height="6.3" fill="#bb509a"/>
<rect x="311.47" y="285.2" width="5.03" height="6.3" fill="#b43f90"/>
<rect x="316.30" y="285.2" width="5.03" height="6.3" fill="#ac2e85"/>
<rect x="321.13" y="285.2" width="5.03" height="6.3" fill="#a12778"/>
<rect x="325.97" y="285.2" width="5.03" height="6.3" fill="#821659"/>
<text x="243.00" y="300.00" font-size="6.4" text-anchor="start" font-weight="normal" font-style="italic" fill="#111" >0</text>
<text x="287.20" y="300.00" font-size="6.4" text-anchor="middle" font-weight="normal" font-style="italic" fill="#111" >181</text>
<text x="328.50" y="300.00" font-size="6.4" text-anchor="middle" font-weight="normal" font-style="italic" fill="#111" >32767</text>
<text x="287.20" y="310.40" font-size="6.6" text-anchor="middle" font-weight="normal" font-style="italic" fill="#111" >FPKM (linear)</text>
</g>
<g id="geneset">
<rect x="17.9" y="348.5" width="58.599999999999994" height="58.599999999999994" fill="#111"/>
<rect x="18.90" y="349.50" width="18.20" height="18.20" fill="#741c2d"/>
<rect x="38.10" y="349.50" width="18.20" height="18.20" fill="#e2a485"/>
<rect x="57.30" y="349.50" width="18.20" height="18.20" fill="#cc7f67"/>
<rect x="18.90" y="368.70" width="18.20" height="18.20" fill="#db9b7d"/>
<rect x="38.10" y="368.70" width="18.20" height="18.20" fill="#f3dccb"/>
<rect x="57.30" y="368.70" width="18.20" height="18.20" fill="#f5e2d4"/>
<rect x="18.90" y="387.90" width="18.20" height="18.20" fill="#b53a3f"/>
<rect x="38.10" y="387.90" width="18.20" height="18.20" fill="#561127"/>
<rect x="57.30" y="387.90" width="18.20" height="18.20" fill="#6b1a2e"/>
<text x="78.80" y="361.00" font-size="6.6" text-anchor="start" font-weight="normal" font-style="normal" fill="#1a1a1a" >chemokine activity</text>
<text x="78.80" y="380.20" font-size="6.6" text-anchor="start" font-weight="normal" font-style="normal" fill="#1a1a1a" >cytokine activity</text>
<text x="78.80" y="399.40" font-size="6.6" text-anchor="start" font-weight="normal" font-style="normal" fill="#1a1a1a" >inflammatory response</text>
<text x="28.20" y="336.00" font-size="4.6" text-anchor="middle" font-weight="normal" font-style="normal" fill="#111" >Control</text>
<text x="28.20" y="342.00" font-size="4.6" text-anchor="middle" font-weight="normal" font-style="normal" fill="#111" >vs.</text>
<text x="28.20" y="347.90" font-size="4.6" text-anchor="middle" font-weight="normal" font-style="normal" fill="#111" >6hour</text>
<text x="47.40" y="336.00" font-size="4.6" text-anchor="middle" font-weight="normal" font-style="normal" fill="#111" >Control</text>
<text x="47.40" y="342.00" font-size="4.6" text-anchor="middle" font-weight="normal" font-style="normal" fill="#111" >vs.</text>
<text x="47.40" y="347.90" font-size="4.6" text-anchor="middle" font-weight="normal" font-style="normal" fill="#111" >12hour</text>
<text x="66.60" y="336.00" font-size="4.6" text-anchor="middle" font-weight="normal" font-style="normal" fill="#111" >Control</text>
<text x="66.60" y="342.00" font-size="4.6" text-anchor="middle" font-weight="normal" font-style="normal" fill="#111" >vs.</text>
<text x="66.60" y="347.90" font-size="4.6" text-anchor="middle" font-weight="normal" font-style="normal" fill="#111" >24hour</text>
<text x="231.50" y="347.80" font-size="6.7" text-anchor="middle" font-weight="normal" font-style="normal" fill="#111" >Odds Ratio</text>
<text x="203.20" y="357.20" font-size="6.6" text-anchor="middle" font-weight="normal" font-style="normal" fill="#111" >less than 1</text>
<text x="266.00" y="357.20" font-size="6.6" text-anchor="middle" font-weight="normal" font-style="normal" fill="#111" >more than 1</text>
<text x="231.40" y="363.00" font-size="6.2" text-anchor="middle" font-weight="bold" font-style="normal" fill="#000" >P</text>
<text x="231.40" y="373.20" font-size="5.2" text-anchor="middle" font-weight="normal" font-style="normal" fill="#111" >1</text>
<rect x="168.00" y="378.3" width="6.45" height="8.2" fill="#1f3464"/>
<rect x="174.25" y="378.3" width="6.45" height="8.2" fill="#24478c"/>
<rect x="180.50" y="378.3" width="6.45" height="8.2" fill="#2f62a8"/>
<rect x="186.75" y="378.3" width="6.45" height="8.2" fill="#3e78b8"/>
<rect x="193.00" y="378.3" width="6.45" height="8.2" fill="#5a8fc6"/>
<rect x="199.25" y="378.3" width="6.45" height="8.2" fill="#7ba7d2"/>
<rect x="205.50" y="378.3" width="6.45" height="8.2" fill="#9bbcdc"/>
<rect x="211.75" y="378.3" width="6.45" height="8.2" fill="#b5cee5"/>
<rect x="218.00" y="378.3" width="6.45" height="8.2" fill="#cfe0ee"/>
<rect x="224.25" y="378.3" width="6.45" height="8.2" fill="#e4edf4"/>
<rect x="232.40" y="378.3" width="6.45" height="8.2" fill="#f8ebe1"/>
<rect x="238.65" y="378.3" width="6.45" height="8.2" fill="#f5d9c8"/>
<rect x="244.90" y="378.3" width="6.45" height="8.2" fill="#f0c4aa"/>
<rect x="251.15" y="378.3" width="6.45" height="8.2" fill="#e8aa8a"/>
<rect x="257.40" y="378.3" width="6.45" height="8.2" fill="#dd8e70"/>
<rect x="263.65" y="378.3" width="6.45" height="8.2" fill="#cf7058"/>
<rect x="269.90" y="378.3" width="6.45" height="8.2" fill="#bf5046"/>
<rect x="276.15" y="378.3" width="6.45" height="8.2" fill="#a62f38"/>
<rect x="282.40" y="378.3" width="6.45" height="8.2" fill="#85202f"/>
<rect x="288.65" y="378.3" width="6.25" height="8.2" fill="#621428"/>
<path d="M165.4 377.8H298.7" stroke="#000" stroke-width="1.2"/>
<path d="M231.4 375V388.7" stroke="#000" stroke-width="1.2"/>
<text x="168.15" y="370.6" font-size="5.3" text-anchor="middle" fill="#111">10<tspan dy="-2.2" font-size="3.2">-5</tspan></text>
<text x="243.15" y="370.6" font-size="5.3" text-anchor="middle" fill="#111">10<tspan dy="-2.2" font-size="3.2">-1</tspan></text>
<text x="180.65" y="370.6" font-size="5.3" text-anchor="middle" fill="#111">10<tspan dy="-2.2" font-size="3.2">-4</tspan></text>
<text x="255.65" y="370.6" font-size="5.3" text-anchor="middle" fill="#111">10<tspan dy="-2.2" font-size="3.2">-2</tspan></text>
<text x="193.15" y="370.6" font-size="5.3" text-anchor="middle" fill="#111">10<tspan dy="-2.2" font-size="3.2">-3</tspan></text>
<text x="268.15" y="370.6" font-size="5.3" text-anchor="middle" fill="#111">10<tspan dy="-2.2" font-size="3.2">-3</tspan></text>
<text x="205.65" y="370.6" font-size="5.3" text-anchor="middle" fill="#111">10<tspan dy="-2.2" font-size="3.2">-2</tspan></text>
<text x="280.65" y="370.6" font-size="5.3" text-anchor="middle" fill="#111">10<tspan dy="-2.2" font-size="3.2">-4</tspan></text>
<text x="218.15" y="370.6" font-size="5.3" text-anchor="middle" fill="#111">10<tspan dy="-2.2" font-size="3.2">-1</tspan></text>
<text x="293.15" y="370.6" font-size="5.3" text-anchor="middle" fill="#111">10<tspan dy="-2.2" font-size="3.2">-5</tspan></text>
<path d="M168.75 375.4V377.8M243.75 375.4V377.8M181.25 375.4V377.8M256.25 375.4V377.8M193.75 375.4V377.8M268.75 375.4V377.8M206.25 375.4V377.8M281.25 375.4V377.8M218.75 375.4V377.8M293.75 375.4V377.8" stroke="#000" stroke-width="0.8"/>
<text x="199.00" y="394.80" font-size="6.6" text-anchor="middle" font-weight="normal" font-style="italic" fill="#111" >Inactive</text>
<text x="258.00" y="394.80" font-size="6.6" text-anchor="middle" font-weight="normal" font-style="italic" fill="#111" >Active</text>
<text x="231.70" y="404.80" font-size="6.6" text-anchor="middle" font-weight="normal" font-style="normal" fill="#111" >Geneset Activity</text>
</g>
<g id="panelB">
<text x="355.40" y="17.20" font-size="12.6" text-anchor="start" font-weight="bold" font-style="normal" fill="#000" >B</text>
<rect x="365" y="30.5" width="137" height="7.6" fill="url(#gB)"/>
<text x="355.00" y="47.80" font-size="6.7" text-anchor="start" font-weight="normal" font-style="normal" fill="#111" >row min</text>
<text x="512.80" y="47.80" font-size="6.7" text-anchor="end" font-weight="normal" font-style="italic" fill="#111" >row max</text>
<text transform="translate(384.10,87.0) rotate(-90)" font-size="6.6" fill="#111">No Injury</text>
<text transform="translate(393.10,87.0) rotate(-90)" font-size="6.6" fill="#111">Sham</text>
<text transform="translate(402.10,87.0) rotate(-90)" font-size="6.6" fill="#111">Adhesion</text>
<rect x="377.50" y="89.80" width="8.10" height="8.10" fill="#cf2128"/>
<rect x="386.50" y="89.80" width="8.10" height="8.10" fill="#dd6468"/>
<rect x="395.50" y="89.80" width="8.30" height="8.10" fill="#3d4fa2"/>
<text x="407.50" y="96.50" font-size="6.7" text-anchor="start" font-weight="normal" font-style="normal" fill="#000" >IFNA</text>
<rect x="377.50" y="98.70" width="8.10" height="8.10" fill="#cf2128"/>
<rect x="386.50" y="98.70" width="8.10" height="8.10" fill="#3d4fa2"/>
<rect x="395.50" y="98.70" width="8.30" height="8.10" fill="#3d4fa2"/>
<text x="407.50" y="105.40" font-size="6.7" text-anchor="start" font-weight="normal" font-style="normal" fill="#000" >IL10</text>
<rect x="377.50" y="107.60" width="8.10" height="8.10" fill="#cf2128"/>
<rect x="386.50" y="107.60" width="8.10" height="8.10" fill="#aeb5d8"/>
<rect x="395.50" y="107.60" width="8.30" height="8.10" fill="#3d4fa2"/>
<text x="407.50" y="114.30" font-size="6.7" text-anchor="start" font-weight="normal" font-style="normal" fill="#000" >MIP2</text>
<rect x="377.50" y="116.50" width="8.10" height="8.10" fill="#f3c8c9"/>
<rect x="386.50" y="116.50" width="8.10" height="8.10" fill="#cf2128"/>
<rect x="395.50" y="116.50" width="8.30" height="8.10" fill="#3d4fa2"/>
<text x="407.50" y="123.20" font-size="6.7" text-anchor="start" font-weight="normal" font-style="normal" fill="#000" >IL13</text>
<rect x="377.50" y="125.40" width="8.10" height="8.10" fill="#7b87c0"/>
<rect x="386.50" y="125.40" width="8.10" height="8.10" fill="#cf2128"/>
<rect x="395.50" y="125.40" width="8.30" height="8.10" fill="#3d4fa2"/>
<text x="407.50" y="132.10" font-size="6.7" text-anchor="start" font-weight="normal" font-style="normal" fill="#000" >IL15/IL15R</text>
<rect x="377.50" y="134.30" width="8.10" height="8.10" fill="#7b87c0"/>
<rect x="386.50" y="134.30" width="8.10" height="8.10" fill="#cf2128"/>
<rect x="395.50" y="134.30" width="8.30" height="8.10" fill="#3d4fa2"/>
<text x="407.50" y="141.00" font-size="6.7" text-anchor="start" font-weight="normal" font-style="normal" fill="#000" >IL3</text>
<rect x="377.50" y="143.20" width="8.10" height="8.10" fill="#d4d8eb"/>
<rect x="386.50" y="143.20" width="8.10" height="8.10" fill="#cf2128"/>
<rect x="395.50" y="143.20" width="8.30" height="8.10" fill="#3d4fa2"/>
<text x="407.50" y="149.90" font-size="6.7" text-anchor="start" font-weight="normal" font-style="normal" fill="#000" >RANTES</text>
<rect x="377.50" y="152.10" width="8.10" height="8.10" fill="#d8494f"/>
<rect x="386.50" y="152.10" width="8.10" height="8.10" fill="#3d4fa2"/>
<rect x="395.50" y="152.10" width="8.30" height="8.10" fill="#cf2128"/>
<text x="407.50" y="158.80" font-size="6.7" text-anchor="start" font-weight="normal" font-style="normal" fill="#000" >IL1A</text>
<rect x="377.50" y="161.00" width="8.10" height="8.10" fill="#3d4fa2"/>
<rect x="386.50" y="161.00" width="8.10" height="8.10" fill="#3d4fa2"/>
<rect x="395.50" y="161.00" width="8.30" height="8.10" fill="#cf2128"/>
<text x="407.50" y="167.70" font-size="6.7" text-anchor="start" font-weight="normal" font-style="normal" fill="#000" >GROA</text>
<rect x="377.50" y="169.90" width="8.10" height="8.10" fill="#3d4fa2"/>
<rect x="386.50" y="169.90" width="8.10" height="8.10" fill="#3d4fa2"/>
<rect x="395.50" y="169.90" width="8.30" height="8.10" fill="#cf2128"/>
<text x="407.50" y="176.60" font-size="6.7" text-anchor="start" font-weight="normal" font-style="normal" fill="#000" >EOTAXIN</text>
<rect x="377.50" y="178.80" width="8.10" height="8.10" fill="#3d4fa2"/>
<rect x="386.50" y="178.80" width="8.10" height="8.10" fill="#3d4fa2"/>
<rect x="395.50" y="178.80" width="8.30" height="8.10" fill="#cf2128"/>
<text x="407.50" y="185.50" font-size="6.7" text-anchor="start" font-weight="normal" font-style="normal" fill="#000" >IL22</text>
<rect x="377.50" y="187.70" width="8.10" height="8.10" fill="#3d4fa2"/>
<rect x="386.50" y="187.70" width="8.10" height="8.10" fill="#3d4fa2"/>
<rect x="395.50" y="187.70" width="8.30" height="8.10" fill="#cf2128"/>
<text x="407.50" y="194.40" font-size="6.7" text-anchor="start" font-weight="normal" font-style="normal" fill="#000" >IFNG</text>
<rect x="377.50" y="196.60" width="8.10" height="8.10" fill="#3d4fa2"/>
<rect x="386.50" y="196.60" width="8.10" height="8.10" fill="#3d4fa2"/>
<rect x="395.50" y="196.60" width="8.30" height="8.10" fill="#cf2128"/>
<text x="407.50" y="203.30" font-size="6.7" text-anchor="start" font-weight="normal" font-style="normal" fill="#000" >IL2</text>
<rect x="377.50" y="205.50" width="8.10" height="8.10" fill="#3d4fa2"/>
<rect x="386.50" y="205.50" width="8.10" height="8.10" fill="#3d4fa2"/>
<rect x="395.50" y="205.50" width="8.30" height="8.10" fill="#cf2128"/>
<text x="407.50" y="212.20" font-size="6.7" text-anchor="start" font-weight="normal" font-style="normal" fill="#000" >IL18</text>
<rect x="377.50" y="214.40" width="8.10" height="8.10" fill="#3d4fa2"/>
<rect x="386.50" y="214.40" width="8.10" height="8.10" fill="#3d4fa2"/>
<rect x="395.50" y="214.40" width="8.30" height="8.10" fill="#cf2128"/>
<text x="407.50" y="221.10" font-size="6.7" text-anchor="start" font-weight="normal" font-style="normal" fill="#000" >MCP1</text>
<rect x="377.50" y="223.30" width="8.10" height="8.10" fill="#3d4fa2"/>
<rect x="386.50" y="223.30" width="8.10" height="8.10" fill="#4354a5"/>
<rect x="395.50" y="223.30" width="8.30" height="8.10" fill="#cf2128"/>
<text x="407.50" y="230.00" font-size="6.7" text-anchor="start" font-weight="normal" font-style="normal" fill="#000" >IL27</text>
<rect x="377.50" y="232.20" width="8.10" height="8.10" fill="#3d4fa2"/>
<rect x="386.50" y="232.20" width="8.10" height="8.10" fill="#5061ab"/>
<rect x="395.50" y="232.20" width="8.30" height="8.10" fill="#cf2128"/>
<text x="407.50" y="238.90" font-size="6.7" text-anchor="start" font-weight="normal" font-style="normal" fill="#000" >IL23</text>
<rect x="377.50" y="241.10" width="8.10" height="8.10" fill="#3d4fa2"/>
<rect x="386.50" y="241.10" width="8.10" height="8.10" fill="#5061ab"/>
<rect x="395.50" y="241.10" width="8.30" height="8.10" fill="#cf2128"/>
<text x="407.50" y="247.80" font-size="6.7" text-anchor="start" font-weight="normal" font-style="normal" fill="#000" >LIF</text>
<rect x="377.50" y="250.00" width="8.10" height="8.10" fill="#3d4fa2"/>
<rect x="386.50" y="250.00" width="8.10" height="8.10" fill="#4758a7"/>
<rect x="395.50" y="250.00" width="8.30" height="8.10" fill="#cf2128"/>
<text x="407.50" y="256.70" font-size="6.7" text-anchor="start" font-weight="normal" font-style="normal" fill="#000" >IL28</text>
<rect x="377.50" y="258.90" width="8.10" height="8.10" fill="#3d4fa2"/>
<rect x="386.50" y="258.90" width="8.10" height="8.10" fill="#4354a5"/>
<rect x="395.50" y="258.90" width="8.30" height="8.10" fill="#cf2128"/>
<text x="407.50" y="265.60" font-size="6.7" text-anchor="start" font-weight="normal" font-style="normal" fill="#000" >IL12P70</text>
<rect x="377.50" y="267.80" width="8.10" height="8.10" fill="#3d4fa2"/>
<rect x="386.50" y="267.80" width="8.10" height="8.10" fill="#3d4fa2"/>
<rect x="395.50" y="267.80" width="8.30" height="8.10" fill="#cf2128"/>
<text x="407.50" y="274.50" font-size="6.7" text-anchor="start" font-weight="normal" font-style="normal" fill="#000" >MCP3</text>
<rect x="377.50" y="276.70" width="8.10" height="8.10" fill="#3d4fa2"/>
<rect x="386.50" y="276.70" width="8.10" height="8.10" fill="#3d4fa2"/>
<rect x="395.50" y="276.70" width="8.30" height="8.10" fill="#cf2128"/>
<text x="407.50" y="283.40" font-size="6.7" text-anchor="start" font-weight="normal" font-style="normal" fill="#000" >MIP1A</text>
<rect x="377.50" y="285.60" width="8.10" height="8.10" fill="#3d4fa2"/>
<rect x="386.50" y="285.60" width="8.10" height="8.10" fill="#4354a5"/>
<rect x="395.50" y="285.60" width="8.30" height="8.10" fill="#cf2128"/>
<text x="407.50" y="292.30" font-size="6.7" text-anchor="start" font-weight="normal" font-style="normal" fill="#000" >IL5</text>
<rect x="377.50" y="294.50" width="8.10" height="8.10" fill="#3d4fa2"/>
<rect x="386.50" y="294.50" width="8.10" height="8.10" fill="#4758a7"/>
<rect x="395.50" y="294.50" width="8.30" height="8.10" fill="#cf2128"/>
<text x="407.50" y="301.20" font-size="6.7" text-anchor="start" font-weight="normal" font-style="normal" fill="#000" >MIP1B</text>
<rect x="377.50" y="303.40" width="8.10" height="8.10" fill="#3d4fa2"/>
<rect x="386.50" y="303.40" width="8.10" height="8.10" fill="#5061ab"/>
<rect x="395.50" y="303.40" width="8.30" height="8.10" fill="#cf2128"/>
<text x="407.50" y="310.10" font-size="6.7" text-anchor="start" font-weight="normal" font-style="normal" fill="#000" >GSCF/CSF3</text>
<rect x="377.50" y="312.30" width="8.10" height="8.10" fill="#3d4fa2"/>
<rect x="386.50" y="312.30" width="8.10" height="8.10" fill="#5061ab"/>
<rect x="395.50" y="312.30" width="8.30" height="8.10" fill="#cf2128"/>
<text x="407.50" y="319.00" font-size="6.7" text-anchor="start" font-weight="normal" font-style="normal" fill="#000" >TNFA</text>
<rect x="377.50" y="321.20" width="8.10" height="8.10" fill="#3d4fa2"/>
<rect x="386.50" y="321.20" width="8.10" height="8.10" fill="#6e7bb9"/>
<rect x="395.50" y="321.20" width="8.30" height="8.10" fill="#cf2128"/>
<text x="407.50" y="327.90" font-size="6.7" text-anchor="start" font-weight="normal" font-style="normal" fill="#000" >IL6</text>
<rect x="377.50" y="330.10" width="8.10" height="8.10" fill="#3d4fa2"/>
<rect x="386.50" y="330.10" width="8.10" height="8.10" fill="#ffffff"/>
<rect x="395.50" y="330.10" width="8.30" height="8.10" fill="#cf2128"/>
<text x="407.50" y="336.80" font-size="6.7" text-anchor="start" font-weight="normal" font-style="normal" fill="#000" >IL4</text>
<rect x="377.50" y="339.00" width="8.10" height="8.10" fill="#3d4fa2"/>
<rect x="386.50" y="339.00" width="8.10" height="8.10" fill="#b9c0de"/>
<rect x="395.50" y="339.00" width="8.30" height="8.10" fill="#cf2128"/>
<text x="407.50" y="345.70" font-size="6.7" text-anchor="start" font-weight="normal" font-style="normal" fill="#000" >IL17A</text>
<rect x="377.50" y="347.90" width="8.10" height="8.10" fill="#3d4fa2"/>
<rect x="386.50" y="347.90" width="8.10" height="8.10" fill="#bfc5e0"/>
<rect x="395.50" y="347.90" width="8.30" height="8.10" fill="#cf2128"/>
<text x="407.50" y="354.60" font-size="6.7" text-anchor="start" font-weight="normal" font-style="normal" fill="#000" >IL1B</text>
<rect x="377.50" y="356.80" width="8.10" height="8.10" fill="#3d4fa2"/>
<rect x="386.50" y="356.80" width="8.10" height="8.10" fill="#b1b9da"/>
<rect x="395.50" y="356.80" width="8.30" height="8.10" fill="#cf2128"/>
<text x="407.50" y="363.50" font-size="6.7" text-anchor="start" font-weight="normal" font-style="normal" fill="#000" >VEGF</text>
<rect x="377.50" y="365.70" width="8.10" height="8.10" fill="#3d4fa2"/>
<rect x="386.50" y="365.70" width="8.10" height="8.10" fill="#7b87c0"/>
<rect x="395.50" y="365.70" width="8.30" height="8.10" fill="#cf2128"/>
<text x="407.50" y="372.40" font-size="6.7" text-anchor="start" font-weight="normal" font-style="normal" fill="#000" >IP10</text>
<rect x="377.50" y="374.60" width="8.10" height="8.10" fill="#3d4fa2"/>
<rect x="386.50" y="374.60" width="8.10" height="8.10" fill="#8e99c9"/>
<rect x="395.50" y="374.60" width="8.30" height="8.10" fill="#cf2128"/>
<text x="407.50" y="381.30" font-size="6.7" text-anchor="start" font-weight="normal" font-style="normal" fill="#000" >TGFB</text>
<rect x="377.50" y="383.50" width="8.10" height="8.10" fill="#3d4fa2"/>
<rect x="386.50" y="383.50" width="8.10" height="8.10" fill="#cf2128"/>
<rect x="395.50" y="383.50" width="8.30" height="8.10" fill="#d8494f"/>
<text x="407.50" y="390.20" font-size="6.7" text-anchor="start" font-weight="normal" font-style="normal" fill="#000" >GMCSF</text>
<rect x="377.50" y="392.40" width="8.10" height="8.10" fill="#3d4fa2"/>
<rect x="386.50" y="392.40" width="8.10" height="8.10" fill="#cf2128"/>
<rect x="395.50" y="392.40" width="8.30" height="8.10" fill="#e37e82"/>
<text x="407.50" y="399.10" font-size="6.7" text-anchor="start" font-weight="normal" font-style="normal" fill="#000" >IL31</text>
<rect x="377.50" y="401.30" width="8.10" height="8.10" fill="#3d4fa2"/>
<rect x="386.50" y="401.30" width="8.10" height="8.10" fill="#edabad"/>
<rect x="395.50" y="401.30" width="8.30" height="8.10" fill="#cf2128"/>
<text x="407.50" y="408.00" font-size="6.7" text-anchor="start" font-weight="normal" font-style="normal" fill="#000" >IL9</text>
<rect x="377.50" y="410.20" width="8.10" height="8.10" fill="#3d4fa2"/>
<rect x="386.50" y="410.20" width="8.10" height="8.10" fill="#df6c71"/>
<rect x="395.50" y="410.20" width="8.30" height="8.10" fill="#cf2128"/>
<text x="407.50" y="416.90" font-size="6.7" text-anchor="start" font-weight="normal" font-style="normal" fill="#000" >MCSF</text>
<rect x="377.50" y="419.10" width="8.10" height="8.10" fill="#3d4fa2"/>
<rect x="386.50" y="419.10" width="8.10" height="8.10" fill="#cf2128"/>
<rect x="395.50" y="419.10" width="8.30" height="8.10" fill="#c9cee5"/>
<text x="407.50" y="425.80" font-size="6.7" text-anchor="start" font-weight="normal" font-style="normal" fill="#000" >LIX</text>
</g>
<g id="panelC">
<text x="7.80" y="445.20" font-size="12.6" text-anchor="start" font-weight="bold" font-style="normal" fill="#000" >C</text>
<text x="49.20" y="445.90" font-size="7.77" text-anchor="start" font-weight="normal" font-style="normal" fill="#111" >Myeloid Population in Adhesion Formation</text>
<path d="M49.4 458.9V558.2H194.4V458.9" fill="none" stroke="#000" stroke-width="1.3"/>
<text x="32.4" y="560.60" font-size="6.3" fill="#111">10<tspan dy="-3.1" font-size="4.7">4</tspan></text>
<text x="32.4" y="536.50" font-size="6.3" fill="#111">10<tspan dy="-3.1" font-size="4.7">5</tspan></text>
<text x="32.4" y="512.40" font-size="6.3" fill="#111">10<tspan dy="-3.1" font-size="4.7">6</tspan></text>
<text x="32.4" y="488.30" font-size="6.3" fill="#111">10<tspan dy="-3.1" font-size="4.7">7</tspan></text>
<text x="32.4" y="464.20" font-size="6.3" fill="#111">10<tspan dy="-3.1" font-size="4.7">8</tspan></text>
<text x="201.6" y="560.60" font-size="6.3" fill="#111">10<tspan dy="-3.1" font-size="4.7">3</tspan></text>
<text x="201.6" y="541.28" font-size="6.3" fill="#111">10<tspan dy="-3.1" font-size="4.7">4</tspan></text>
<text x="201.6" y="521.96" font-size="6.3" fill="#111">10<tspan dy="-3.1" font-size="4.7">5</tspan></text>
<text x="201.6" y="502.64" font-size="6.3" fill="#111">10<tspan dy="-3.1" font-size="4.7">6</tspan></text>
<text x="201.6" y="483.32" font-size="6.3" fill="#111">10<tspan dy="-3.1" font-size="4.7">7</tspan></text>
<text x="201.6" y="464.00" font-size="6.3" fill="#111">10<tspan dy="-3.1" font-size="4.7">8</tspan></text>
<text x="62.50" y="571.20" font-size="6.6" text-anchor="middle" font-weight="normal" font-style="normal" fill="#111" >0</text>
<text x="78.34" y="571.20" font-size="6.6" text-anchor="middle" font-weight="normal" font-style="normal" fill="#111" >12</text>
<text x="94.18" y="571.20" font-size="6.6" text-anchor="middle" font-weight="normal" font-style="normal" fill="#111" >24</text>
<text x="110.02" y="571.20" font-size="6.6" text-anchor="middle" font-weight="normal" font-style="normal" fill="#111" >36</text>
<text x="125.86" y="571.20" font-size="6.6" text-anchor="middle" font-weight="normal" font-style="normal" fill="#111" >48</text>
<text x="141.70" y="571.20" font-size="6.6" text-anchor="middle" font-weight="normal" font-style="normal" fill="#111" >60</text>
<text x="157.54" y="571.20" font-size="6.6" text-anchor="middle" font-weight="normal" font-style="normal" fill="#111" >72</text>
<text x="173.38" y="571.20" font-size="6.6" text-anchor="middle" font-weight="normal" font-style="normal" fill="#111" >84</text>
<text x="189.22" y="571.20" font-size="6.6" text-anchor="middle" font-weight="normal" font-style="normal" fill="#111" >96</text>
<path d="M46.00 558.20H49.4M46.00 534.10H49.4M46.00 510.00H49.4M46.00 485.90H49.4M46.00 461.80H49.4M194.40 558.20H197.80M194.40 538.88H197.80M194.40 519.56H197.80M194.40 500.24H197.80M194.40 480.92H197.80M194.40 461.60H197.80M62.50 558.2V561.60M78.34 558.2V561.60M94.18 558.2V561.60M110.02 558.2V561.60M125.86 558.2V561.60M141.70 558.2V561.60M157.54 558.2V561.60M173.38 558.2V561.60M189.22 558.2V561.60" stroke="#000" stroke-width="1.0" fill="none"/>
<path d="M47.50 550.95H49.4M47.50 546.70H49.4M47.50 543.69H49.4M47.50 541.35H49.4M47.50 539.45H49.4M47.50 537.83H49.4M47.50 536.44H49.4M47.50 535.20H49.4M47.50 526.85H49.4M47.50 522.60H49.4M47.50 519.59H49.4M47.50 517.25H49.4M47.50 515.35H49.4M47.50 513.73H49.4M47.50 512.34H49.4M47.50 511.10H49.4M47.50 502.75H49.4M47.50 498.50H49.4M47.50 495.49H49.4M47.50 493.15H49.4M47.50 491.25H49.4M47.50 489.63H49.4M47.50 488.24H49.4M47.50 487.00H49.4M47.50 478.65H49.4M47.50 474.40H49.4M47.50 471.39H49.4M47.50 469.05H49.4M47.50 467.15H49.4M47.50 465.53H49.4M47.50 464.14H49.4M47.50 462.90H49.4M194.40 552.38H196.30M194.40 548.98H196.30M194.40 546.57H196.30M194.40 544.70H196.30M194.40 543.17H196.30M194.40 541.87H196.30M194.40 540.75H196.30M194.40 539.76H196.30M194.40 533.06H196.30M194.40 529.66H196.30M194.40 527.25H196.30M194.40 525.38H196.30M194.40 523.85H196.30M194.40 522.55H196.30M194.40 521.43H196.30M194.40 520.44H196.30M194.40 513.74H196.30M194.40 510.34H196.30M194.40 507.93H196.30M194.40 506.06H196.30M194.40 504.53H196.30M194.40 503.23H196.30M194.40 502.11H196.30M194.40 501.12H196.30M194.40 494.42H196.30M194.40 491.02H196.30M194.40 488.61H196.30M194.40 486.74H196.30M194.40 485.21H196.30M194.40 483.91H196.30M194.40 482.79H196.30M194.40 481.80H196.30M194.40 475.10H196.30M194.40 471.70H196.30M194.40 469.29H196.30M194.40 467.42H196.30M194.40 465.89H196.30M194.40 464.59H196.30M194.40 463.47H196.30M194.40 462.48H196.30" stroke="#000" stroke-width="0.6" fill="none"/>
<text transform="translate(121.8,583.2) scale(0.72,1)" font-size="9" text-anchor="middle" fill="#111" stroke="#111" stroke-width="0.3">Time post adhesion (hrs)</text>
<text transform="translate(26.6,508.6) rotate(-90) scale(0.79,1)" font-size="8.6" text-anchor="middle" fill="#111" stroke="#111" stroke-width="0.3">F4/80 hi cell counts</text>
<text transform="translate(218.0,508.6) rotate(90) scale(0.76,1)" font-size="8.6" text-anchor="middle" fill="#111" stroke="#111" stroke-width="0.3">Gr1 hi cell counts</text>
<polyline points="62.50,475.40 66.50,526.80 70.75,521.30 78.30,533.80 94.20,530.80 125.80,511.90 189.20,523.00" fill="none" stroke="#1f4788" stroke-width="1.6" stroke-linejoin="round"/>
<path d="M62.50 470.3V480.3M60.20 470.3H64.80M60.20 480.3H64.80M66.50 524.3V529.6M64.20 524.3H68.80M64.20 529.6H68.80M70.75 515.5V525.5M68.45 515.5H73.05M68.45 525.5H73.05M78.30 530.5V536.8M76.00 530.5H80.60M76.00 536.8H80.60M94.20 525V536.8M91.90 525H96.50M91.90 536.8H96.50M125.80 508.7V515M123.50 508.7H128.10M123.50 515H128.10M189.20 518.7V527M186.90 518.7H191.50M186.90 527H191.50" stroke="#1f4788" stroke-width="1.0" fill="none"/>
<circle cx="62.50" cy="475.40" r="1.9" fill="#1f4788"/>
<circle cx="66.50" cy="526.80" r="1.9" fill="#1f4788"/>
<circle cx="70.75" cy="521.30" r="1.9" fill="#1f4788"/>
<circle cx="78.30" cy="533.80" r="1.9" fill="#1f4788"/>
<circle cx="94.20" cy="530.80" r="1.9" fill="#1f4788"/>
<circle cx="125.80" cy="511.90" r="1.9" fill="#1f4788"/>
<circle cx="189.20" cy="523.00" r="1.9" fill="#1f4788"/>
<polyline points="62.50,531.30 66.50,493.30 70.75,483.80 78.30,490.00 94.20,497.50 125.80,493.80 189.20,499.00" fill="none" stroke="#b01238" stroke-width="1.6" stroke-linejoin="round"/>
<path d="M62.50 530V532.5M60.20 530H64.80M60.20 532.5H64.80M66.50 490V496.5M64.20 490H68.80M64.20 496.5H68.80M70.75 479.5V487.5M68.45 479.5H73.05M68.45 487.5H73.05M78.30 487.3V493M76.00 487.3H80.60M76.00 493H80.60M94.20 493.7V501.8M91.90 493.7H96.50M91.90 501.8H96.50M125.80 492V495.6M123.50 492H128.10M123.50 495.6H128.10M189.20 497.2V500.8M186.90 497.2H191.50M186.90 500.8H191.50" stroke="#b01238" stroke-width="1.0" fill="none"/>
<rect x="60.60" y="529.40" width="3.8" height="3.8" fill="#b01238"/>
<rect x="64.60" y="491.40" width="3.8" height="3.8" fill="#b01238"/>
<rect x="68.85" y="481.90" width="3.8" height="3.8" fill="#b01238"/>
<rect x="76.40" y="488.10" width="3.8" height="3.8" fill="#b01238"/>
<rect x="92.30" y="495.60" width="3.8" height="3.8" fill="#b01238"/>
<rect x="123.90" y="491.90" width="3.8" height="3.8" fill="#b01238"/>
<rect x="187.30" y="497.10" width="3.8" height="3.8" fill="#b01238"/>
<path d="M135 458H147.5" stroke="#1f4788" stroke-width="1.5"/><circle cx="141" cy="458" r="1.9" fill="#1f4788"/>
<text x="151.20" y="460.00" font-size="5.5" text-anchor="start" font-weight="normal" font-style="normal" fill="#000" >Macrophages</text>
<path d="M135 468.3H147.5" stroke="#b01238" stroke-width="1.5"/><rect x="139.1" y="466.4" width="3.8" height="3.8" fill="#b01238"/>
<text x="151.20" y="470.30" font-size="5.5" text-anchor="start" font-weight="normal" font-style="normal" fill="#000" >Neutrophils</text>
<text x="46.50" y="602.60" font-size="7.8" text-anchor="start" font-weight="normal" font-style="normal" fill="#111" >Peritoneal Macrophages</text>
<path d="M47.0 606.8V665.0H130.5" fill="none" stroke="#000" stroke-width="1.1"/>
<text x="40.00" y="667.40" font-size="6.6" text-anchor="end" font-weight="normal" font-style="normal" fill="#111" >0</text>
<text x="40.00" y="653.45" font-size="6.6" text-anchor="end" font-weight="normal" font-style="normal" fill="#111" >20</text>
<text x="40.00" y="639.50" font-size="6.6" text-anchor="end" font-weight="normal" font-style="normal" fill="#111" >40</text>
<text x="40.00" y="625.55" font-size="6.6" text-anchor="end" font-weight="normal" font-style="normal" fill="#111" >60</text>
<text x="40.00" y="611.60" font-size="6.6" text-anchor="end" font-weight="normal" font-style="normal" fill="#111" >80</text>
<path d="M60.80 617.01V612.97M56.20 612.97H65.40" stroke="#111" stroke-width="1.15" fill="none"/>
<rect x="51.55" y="617.01" width="18.5" height="47.59" fill="#6bb23e"/>
<text x="60.60" y="677.80" font-size="6.55" text-anchor="middle" font-weight="normal" font-style="normal" fill="#111" >Untreated</text>
<path d="M88.90 649.52V635.57M84.30 635.57H93.50" stroke="#111" stroke-width="1.15" fill="none"/>
<rect x="79.65" y="649.52" width="18.5" height="15.08" fill="#4e2170"/>
<text x="88.70" y="677.80" font-size="6.55" text-anchor="middle" font-weight="normal" font-style="normal" fill="#111" >Sham</text>
<path d="M117.00 664.51V663.95M112.40 663.95H121.60" stroke="#111" stroke-width="1.15" fill="none"/>
<rect x="107.75" y="664.51" width="18.5" height="0.09" fill="#c9922a"/>
<text x="116.80" y="677.80" font-size="6.55" text-anchor="middle" font-weight="normal" font-style="normal" fill="#111" >Adhesion</text>
<path d="M43.00 665.00H47.0M43.00 651.05H47.0M43.00 637.10H47.0M43.00 623.15H47.0M43.00 609.20H47.0M60.80 665.0V668.2M88.90 665.0V668.2M117.00 665.0V668.2" stroke="#000" stroke-width="0.9" fill="none"/>
<text transform="translate(26.9,635.6) rotate(-90) scale(0.79,1)" font-size="8.4" text-anchor="middle" fill="#111" stroke="#111" stroke-width="0.3">% F4/80hi cells</text>
<text x="172.00" y="602.60" font-size="7.8" text-anchor="start" font-weight="normal" font-style="normal" fill="#111" >Peritoneal Neutrophils</text>
<path d="M168.7 606.8V665.0H252.0" fill="none" stroke="#000" stroke-width="1.1"/>
<text x="161.70" y="667.40" font-size="6.6" text-anchor="end" font-weight="normal" font-style="normal" fill="#111" >0</text>
<text x="161.70" y="653.45" font-size="6.6" text-anchor="end" font-weight="normal" font-style="normal" fill="#111" >20</text>
<text x="161.70" y="639.50" font-size="6.6" text-anchor="end" font-weight="normal" font-style="normal" fill="#111" >40</text>
<text x="161.70" y="625.55" font-size="6.6" text-anchor="end" font-weight="normal" font-style="normal" fill="#111" >60</text>
<text x="161.70" y="611.60" font-size="6.6" text-anchor="end" font-weight="normal" font-style="normal" fill="#111" >80</text>
<path d="M182.50 664.30V663.26M177.90 663.26H187.10" stroke="#111" stroke-width="1.15" fill="none"/>
<rect x="173.25" y="664.30" width="18.5" height="0.30" fill="#3f6b25"/>
<text x="182.30" y="677.80" font-size="6.55" text-anchor="middle" font-weight="normal" font-style="normal" fill="#111" >Untreated</text>
<path d="M210.60 653.70V648.68M206.00 648.68H215.20" stroke="#111" stroke-width="1.15" fill="none"/>
<rect x="201.35" y="653.70" width="18.5" height="10.90" fill="#4e2170"/>
<text x="210.40" y="677.80" font-size="6.55" text-anchor="middle" font-weight="normal" font-style="normal" fill="#111" >Sham</text>
<path d="M238.70 628.17V621.48M234.10 621.48H243.30" stroke="#111" stroke-width="1.15" fill="none"/>
<rect x="229.45" y="628.17" width="18.5" height="36.43" fill="#df951f"/>
<text x="238.50" y="677.80" font-size="6.55" text-anchor="middle" font-weight="normal" font-style="normal" fill="#111" >Adhesion</text>
<path d="M164.70 665.00H168.7M164.70 651.05H168.7M164.70 637.10H168.7M164.70 623.15H168.7M164.70 609.20H168.7M182.50 665.0V668.2M210.60 665.0V668.2M238.70 665.0V668.2" stroke="#000" stroke-width="0.9" fill="none"/>
<text transform="translate(148.4,635.6) rotate(-90) scale(0.79,1)" font-size="8.4" text-anchor="middle" fill="#111" stroke="#111" stroke-width="0.3">F4/80 lo Gr1 hi cells</text>
</g>
<defs><filter id="fR" filterUnits="userSpaceOnUse" x="0" y="0" width="113.3" height="84.0" color-interpolation-filters="sRGB"><feTurbulence type="fractalNoise" baseFrequency="0.19 0.21" numOctaves="2" seed="5"/><feColorMatrix type="matrix" values="1 0 0 0 0 1 0 0 0 0 1 0 0 0 0 0 0 0 0 1" result="n"/><feGaussianBlur in="SourceGraphic" stdDeviation="0.8" result="d"/><feComposite in="n" in2="d" operator="arithmetic" k1="0" k2="1.0" k3="0.62" k4="-0.2" result="v"/><feColorMatrix in="v" type="matrix" values="2.660 0 0 0 -1.425  0.196 0 0 0 -0.105  0.196 0 0 0 -0.105  0 0 0 0 1"/></filter><filter id="fG" filterUnits="userSpaceOnUse" x="0" y="0" width="113.3" height="84.0" color-interpolation-filters="sRGB"><feTurbulence type="fractalNoise" baseFrequency="0.15 0.17" numOctaves="2" seed="23"/><feColorMatrix type="matrix" values="1 0 0 0 0 1 0 0 0 0 1 0 0 0 0 0 0 0 0 1" result="n"/><feGaussianBlur in="SourceGraphic" stdDeviation="0.9" result="d"/><feComposite in="n" in2="d" operator="arithmetic" k1="0" k2="1.0" k3="0.62" k4="-0.2" result="v"/><feColorMatrix in="v" type="matrix" values="0.680 0 0 0 -0.304  1.530 0 0 0 -0.684  0.255 0 0 0 -0.114  0 0 0 0 1"/></filter><filter id="fH" filterUnits="userSpaceOnUse" x="0" y="0" width="113.3" height="84.0" color-interpolation-filters="sRGB"><feTurbulence type="fractalNoise" baseFrequency="0.21 0.23" numOctaves="2" seed="9"/><feColorMatrix type="matrix" values="1 0 0 0 0 1 0 0 0 0 1 0 0 0 0 0 0 0 0 1" result="n"/><feGaussianBlur in="SourceGraphic" stdDeviation="3.0" result="d"/><feComposite in="n" in2="d" operator="arithmetic" k1="0" k2="1.0" k3="0.5" k4="-0.25" result="v"/><feColorMatrix in="v" type="matrix" values="2.652 0 0 0 -1.030  2.652 0 0 0 -1.030  2.652 0 0 0 -1.030  0 0 0 0 1"/></filter><clipPath id="cpD"><rect width="113.3" height="84"/></clipPath><filter id="blY" x="-50%" y="-50%" width="200%" height="200%"><feGaussianBlur stdDeviation="0.9"/></filter></defs>
<g id="panelD">
<text x="269.40" y="498.90" font-size="12.6" text-anchor="start" font-weight="bold" font-style="normal" fill="#000" >D</text>
<g transform="translate(269.2,505.5)"><rect width="113.3" height="84" fill="#000"/>
<g id="redL" filter="url(#fR)"><rect width="113.3" height="84.0" fill="rgb(66,66,66)"/><ellipse cx="33" cy="36" rx="5" ry="26" transform="rotate(5 33 36)" fill="rgb(26,26,26)"/><ellipse cx="80" cy="44" rx="38" ry="46" transform="rotate(0 80 44)" fill="rgb(92,92,92)"/><ellipse cx="58" cy="20" rx="14" ry="14" transform="rotate(0 58 20)" fill="rgb(76,76,76)"/><ellipse cx="5.5" cy="55.4" rx="3.8" ry="3.4" transform="rotate(-30 5.5 55.4)" fill="rgb(255,255,255)"/><ellipse cx="48.3" cy="34.0" rx="5.0" ry="2.6" transform="rotate(-20 48.3 34.0)" fill="rgb(242,242,242)"/><ellipse cx="53" cy="27" rx="2.4" ry="1.6" transform="rotate(40 53 27)" fill="rgb(217,217,217)"/><ellipse cx="108.8" cy="35.8" rx="4.2" ry="4.6" transform="rotate(-40 108.8 35.8)" fill="rgb(255,255,255)"/><ellipse cx="106" cy="41" rx="3" ry="2.4" transform="rotate(0 106 41)" fill="rgb(242,242,242)"/><ellipse cx="98" cy="26.5" rx="3" ry="1.8" transform="rotate(30 98 26.5)" fill="rgb(191,191,191)"/><ellipse cx="84.5" cy="18.5" rx="4.5" ry="1.4" transform="rotate(50 84.5 18.5)" fill="rgb(178,178,178)"/><ellipse cx="96" cy="10.4" rx="3.4" ry="2.0" transform="rotate(10 96 10.4)" fill="rgb(204,204,204)"/><ellipse cx="66" cy="7" rx="3.0" ry="1.6" transform="rotate(20 66 7)" fill="rgb(178,178,178)"/><ellipse cx="45" cy="8" rx="2.4" ry="1.6" transform="rotate(0 45 8)" fill="rgb(153,153,153)"/><ellipse cx="75" cy="59" rx="3.6" ry="2.0" transform="rotate(20 75 59)" fill="rgb(204,204,204)"/><ellipse cx="66" cy="54" rx="3.0" ry="1.8" transform="rotate(-30 66 54)" fill="rgb(191,191,191)"/><ellipse cx="54.5" cy="57.7" rx="2.6" ry="1.6" transform="rotate(10 54.5 57.7)" fill="rgb(178,178,178)"/><ellipse cx="43" cy="65.8" rx="1.6" ry="3.2" transform="rotate(0 43 65.8)" fill="rgb(178,178,178)"/><ellipse cx="93.7" cy="54" rx="3.0" ry="2.0" transform="rotate(40 93.7 54)" fill="rgb(178,178,178)"/><ellipse cx="105" cy="64.6" rx="2.8" ry="1.8" transform="rotate(60 105 64.6)" fill="rgb(178,178,178)"/><ellipse cx="84.5" cy="74" rx="3.0" ry="1.8" transform="rotate(0 84.5 74)" fill="rgb(178,178,178)"/><ellipse cx="96" cy="78.5" rx="2.6" ry="1.6" transform="rotate(0 96 78.5)" fill="rgb(166,166,166)"/><ellipse cx="73" cy="40" rx="2.4" ry="1.4" transform="rotate(0 73 40)" fill="rgb(140,140,140)"/><ellipse cx="59" cy="42.7" rx="2.4" ry="1.4" transform="rotate(0 59 42.7)" fill="rgb(140,140,140)"/><ellipse cx="10.6" cy="19.6" rx="2.6" ry="1.8" transform="rotate(0 10.6 19.6)" fill="rgb(140,140,140)"/><ellipse cx="19.8" cy="10.4" rx="2.2" ry="1.6" transform="rotate(0 19.8 10.4)" fill="rgb(128,128,128)"/><ellipse cx="3.7" cy="72.7" rx="2.2" ry="1.8" transform="rotate(0 3.7 72.7)" fill="rgb(128,128,128)"/><ellipse cx="22" cy="72.7" rx="2.4" ry="1.6" transform="rotate(0 22 72.7)" fill="rgb(128,128,128)"/><ellipse cx="31.4" cy="77" rx="2.0" ry="1.4" transform="rotate(0 31.4 77)" fill="rgb(115,115,115)"/><ellipse cx="62" cy="68" rx="2.6" ry="1.6" transform="rotate(-20 62 68)" fill="rgb(153,153,153)"/><ellipse cx="80" cy="32" rx="2.2" ry="1.4" transform="rotate(0 80 32)" fill="rgb(140,140,140)"/><ellipse cx="88" cy="45" rx="2.4" ry="1.6" transform="rotate(0 88 45)" fill="rgb(153,153,153)"/></g>
<g opacity="0.99"><text transform="translate(1.6,9.6) scale(0.81,1)" font-size="9.4" fill="#dd2226">RFP</text></g>
<polygon points="40.8,19.2 47.8,16.3 49.0,27.9" fill="#fff"/>
<polygon points="94.8,25.6 101.4,21.8 103.1,33.9" fill="#fff"/>
</g>
<g transform="translate(386.0,505.5)"><rect width="113.3" height="84" fill="#000"/>
<g id="grnL" filter="url(#fG)"><rect width="113.3" height="84.0" fill="rgb(50,50,50)"/><ellipse cx="75" cy="32" rx="40" ry="30" transform="rotate(0 75 32)" fill="rgb(66,66,66)"/><ellipse cx="85" cy="58" rx="24" ry="16" transform="rotate(0 85 58)" fill="rgb(76,76,76)"/><ellipse cx="18" cy="62" rx="22" ry="24" transform="rotate(0 18 62)" fill="rgb(20,20,20)"/><ellipse cx="20" cy="18" rx="18" ry="14" transform="rotate(0 20 18)" fill="rgb(51,51,51)"/><ellipse cx="58.7" cy="39.6" rx="4.6" ry="3.4" transform="rotate(-30 58.7 39.6)" fill="rgb(255,255,255)"/><ellipse cx="58.7" cy="39.6" rx="3.0" ry="2.2" transform="rotate(-30 58.7 39.6)" fill="rgb(255,255,255)"/><ellipse cx="108.5" cy="38.2" rx="3.4" ry="3.0" transform="rotate(0 108.5 38.2)" fill="rgb(255,255,255)"/><ellipse cx="108.5" cy="38.2" rx="2.2" ry="2.0" transform="rotate(0 108.5 38.2)" fill="rgb(255,255,255)"/><ellipse cx="46.6" cy="36.9" rx="4.2" ry="1.8" transform="rotate(-25 46.6 36.9)" fill="rgb(230,230,230)"/><ellipse cx="86" cy="52" rx="1.5" ry="1.5" transform="rotate(0 86 52)" fill="rgb(217,217,217)"/><ellipse cx="90" cy="57" rx="1.6" ry="1.6" transform="rotate(0 90 57)" fill="rgb(217,217,217)"/><ellipse cx="82" cy="60.5" rx="1.5" ry="1.5" transform="rotate(0 82 60.5)" fill="rgb(204,204,204)"/><ellipse cx="75" cy="65" rx="1.7" ry="1.7" transform="rotate(0 75 65)" fill="rgb(217,217,217)"/><ellipse cx="78" cy="57" rx="1.3" ry="1.3" transform="rotate(0 78 57)" fill="rgb(191,191,191)"/><ellipse cx="95" cy="64" rx="1.4" ry="1.4" transform="rotate(0 95 64)" fill="rgb(191,191,191)"/><ellipse cx="83" cy="54" rx="1.6" ry="1.6" transform="rotate(0 83 54)" fill="rgb(204,204,204)"/><ellipse cx="100" cy="58" rx="1.3" ry="1.3" transform="rotate(0 100 58)" fill="rgb(178,178,178)"/><ellipse cx="69.5" cy="12.7" rx="4" ry="1.4" transform="rotate(30 69.5 12.7)" fill="rgb(153,153,153)"/><ellipse cx="88" cy="23" rx="4" ry="1.4" transform="rotate(-40 88 23)" fill="rgb(153,153,153)"/><ellipse cx="29" cy="23.4" rx="2.6" ry="1.8" transform="rotate(0 29 23.4)" fill="rgb(140,140,140)"/><ellipse cx="40" cy="74.6" rx="1.6" ry="4" transform="rotate(15 40 74.6)" fill="rgb(140,140,140)"/><ellipse cx="10" cy="61" rx="2.2" ry="1.6" transform="rotate(0 10 61)" fill="rgb(115,115,115)"/><ellipse cx="64" cy="24" rx="3.4" ry="1.3" transform="rotate(-40 64 24)" fill="rgb(140,140,140)"/><ellipse cx="100" cy="16" rx="1.4" ry="3.2" transform="rotate(10 100 16)" fill="rgb(153,153,153)"/><ellipse cx="52" cy="58" rx="1.5" ry="3.5" transform="rotate(10 52 58)" fill="rgb(128,128,128)"/></g>
<g opacity="0.99"><text transform="translate(1.6,9.6) scale(0.87,1)" font-size="9.4" fill="#6ea83a">GR1</text></g>
<polygon points="35.8,21.8 42.7,18.7 43.9,30.5" fill="#fff"/>
<polygon points="96.3,27.0 103.6,24.4 105.0,35.7" fill="#fff"/>
</g>
<g transform="translate(269.2,594.7)"><rect width="113.3" height="84" fill="#000"/>
<g id="gryL" filter="url(#fH)"><rect width="113.3" height="84.0" fill="rgb(128,128,128)"/><ellipse cx="12" cy="40" rx="14" ry="16" transform="rotate(0 12 40)" fill="rgb(71,71,71)"/><ellipse cx="6" cy="78" rx="12" ry="8" transform="rotate(0 6 78)" fill="rgb(64,64,64)"/><ellipse cx="40" cy="70" rx="7" ry="6" transform="rotate(0 40 70)" fill="rgb(76,76,76)"/><ellipse cx="30" cy="12" rx="6" ry="5" transform="rotate(0 30 12)" fill="rgb(82,82,82)"/><ellipse cx="70" cy="45" rx="30" ry="25" transform="rotate(0 70 45)" fill="rgb(148,148,148)"/><ellipse cx="100" cy="20" rx="14" ry="14" transform="rotate(0 100 20)" fill="rgb(143,143,143)"/></g>
<g opacity="0.99"><text transform="translate(1.6,9.6) scale(0.94,1)" font-size="9.4" fill="#ffffff">Hoecsht</text></g>
</g>
<g transform="translate(386.0,594.7)"><rect width="113.3" height="84" fill="#000"/>
<g clip-path="url(#cpD)"><use href="#redL"/><use href="#grnL" transform="translate(4.2,-1.5)" style="mix-blend-mode:screen" opacity="0.75"/><ellipse cx="108.9" cy="36.8" rx="2.6" ry="3.0" fill="#ffc81e" filter="url(#blY)" style="mix-blend-mode:screen"/></g>
<g opacity="0.99"><text transform="translate(1.6,9.6) scale(0.957,1)" font-size="9.4" fill="#ffffff">Composite</text></g>
<polygon points="39.9,20.3 46.8,17.1 48.2,29.3" fill="#fff"/>
<polygon points="96.3,25.8 104.0,22.3 105.3,34.8" fill="#fff"/>
</g>
</g>
</svg></body></html>
